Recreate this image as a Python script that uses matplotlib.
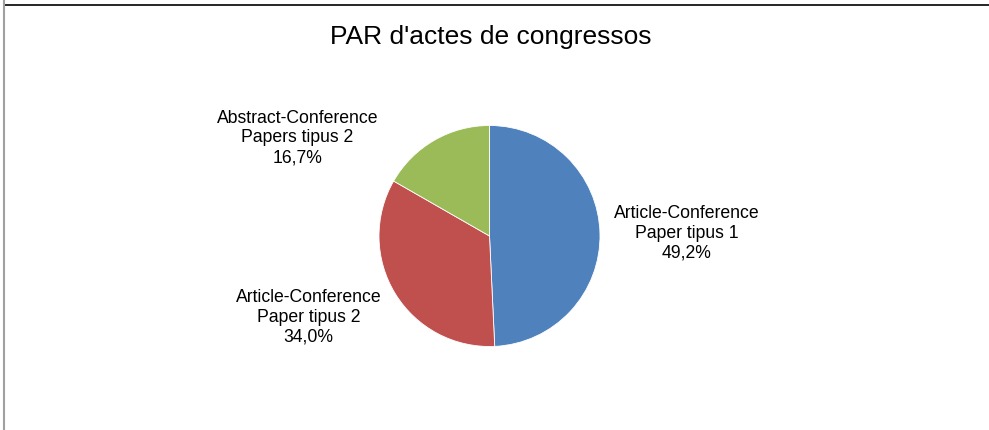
import matplotlib
matplotlib.use("Agg")
import matplotlib.pyplot as plt
from matplotlib.lines import Line2D

plt.rcParams['font.family'] = ['Liberation Sans', 'DejaVu Sans']

# Data
categories = ['Article-Conference\nPaper tipus 1',
              'Article-Conference\nPaper tipus 2',
              'Abstract-Conference\nPapers tipus 2']
values = [49.2, 34.0, 16.7]
colors = ['#4f81bd', '#c0504d', '#9bbb59']
title = "PAR d'actes de congressos"

W, H = 989, 430
fig = plt.figure(figsize=(W / 100, H / 100), dpi=100)
ax = fig.add_axes([0, 0, 1, 1])

cx, cy, r = 489.5, H - 236, 110.5
ax.pie(values, colors=colors, startangle=90, counterclock=False,
       center=(cx, cy), radius=r, frame=True,
       wedgeprops=dict(linewidth=0.6, edgecolor='white'))
ax.set_xlim(0, W)
ax.set_ylim(0, H)
ax.set_aspect('equal')
ax.axis('off')

# label positions (pixels from top-left)
label_pos = [(686.5, 233), (308.5, 317), (297.5, 138)]
for (lx, ly), cat, v in zip(label_pos, categories, values):
    txt = cat + '\n' + ('%.1f%%' % v).replace('.', ',')
    ax.text(lx, H - ly, txt, ha='center', va='center', fontsize=12.7,
            linespacing=1.22, color='black')

ax.text(491, H - 37, title, ha='center', va='center', fontsize=19, color='black')

# outer frame lines
fig.add_artist(Line2D([4 / W, 1], [1 - 4.5 / H, 1 - 4.5 / H], color='black', lw=1.2))
fig.add_artist(Line2D([3.5 / W, 3.5 / W], [0, 1], color='#a0a0a0', lw=1.5))

fig.savefig('out.png', dpi=100)
